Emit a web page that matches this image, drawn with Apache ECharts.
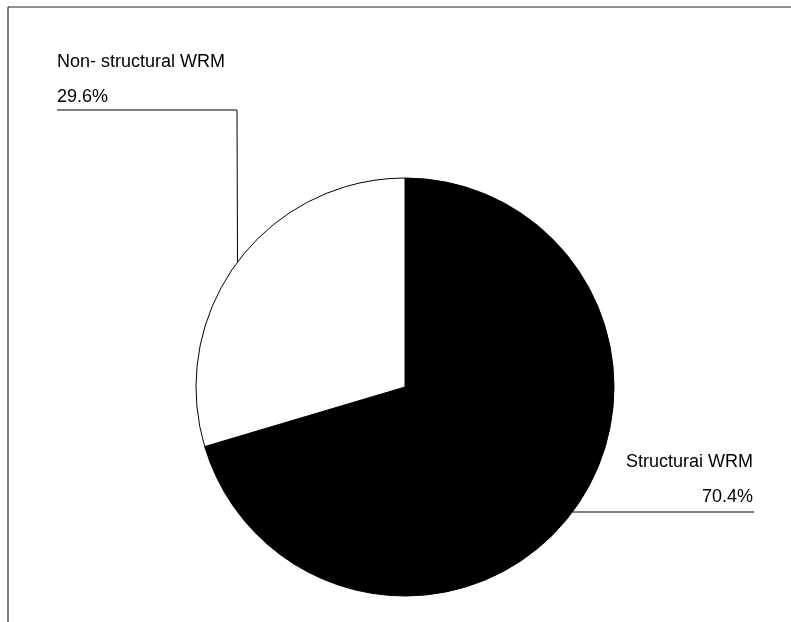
<!DOCTYPE html>
<html>
<head>
<meta charset="utf-8">
<script src="https://cdn.jsdelivr.net/npm/echarts@6/dist/echarts.min.js"></script>
<style>
html,body{margin:0;padding:0;background:#fff;}
#chart{width:791px;height:622px;}
</style>
</head>
<body>
<div id="chart"></div>
<script>
var categories = ['Structurai WRM', 'Non- structural WRM'];
var values = [70.4, 29.6];
var sliceColors = ['#000000', '#ffffff'];

var CX = 405, CY = 387, R = 209;
var FONT = '"Liberation Sans", Arial, sans-serif';

function edgeX(y, side) {
  var dy = CY - y;
  return CX + side * Math.sqrt(R * R - dy * dy);
}

var chart = echarts.init(document.getElementById('chart'), null, {renderer: 'canvas'});
chart.setOption({
  backgroundColor: '#fff',
  animation: false,
  graphic: [
    {type: 'line', shape: {x1: 8, y1: 7, x2: 791, y2: 7}, style: {stroke: '#222', lineWidth: 1.2}},
    {type: 'line', shape: {x1: 8, y1: 7, x2: 8, y2: 622}, style: {stroke: '#222', lineWidth: 1.2}}
  ],
  series: [{
    type: 'pie',
    center: [CX, CY],
    radius: R,
    startAngle: 90,
    clockwise: true,
    silent: true,
    data: categories.map(function (c, i) {
      return {name: c, value: values[i], itemStyle: {color: sliceColors[i]}};
    }),
    itemStyle: {borderColor: '#000', borderWidth: 1},
    label: {
      show: true,
      position: 'outside',
      color: '#000',
      fontFamily: FONT,
      fontSize: 18,
      lineHeight: 35,
      formatter: function (p) { return p.name + '\n' + p.value.toFixed(1) + '%'; }
    },
    labelLine: {show: true, lineStyle: {color: '#000', width: 1}},
    labelLayout: function (p) {
      if (p.dataIndex === 1) {
        return {
          x: 57, y: 79.5, align: 'left', verticalAlign: 'middle',
          labelLinePoints: [[edgeX(262, -1), 262], [237, 110], [57, 110]]
        };
      }
      return {
        x: 753, y: 479.5, align: 'right', verticalAlign: 'middle',
        labelLinePoints: [[edgeX(512, 1), 512], [663, 512], [754, 512]]
      };
    }
  }]
});
</script>
</body>
</html>
